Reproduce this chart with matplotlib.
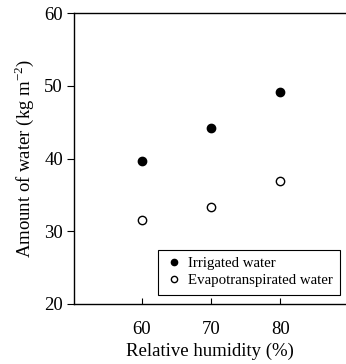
import matplotlib
matplotlib.use("Agg")
import matplotlib.pyplot as plt

plt.rcParams["font.family"] = ["Liberation Serif", "DejaVu Serif"]
plt.rcParams["mathtext.fontset"] = "custom"
plt.rcParams["mathtext.rm"] = "Liberation Serif"

humidity = [60, 70, 80]
irrigated = [39.6, 44.2, 49.1]
evapotranspirated = [31.5, 33.4, 36.9]
x_ticks = [60, 70, 80]
y_ticks = [20, 30, 40, 50, 60]

fig = plt.figure(figsize=(3.46, 3.64), dpi=100)
ax = fig.add_axes([0.214, 0.165, 0.786, 0.799])

ax.plot(humidity, irrigated, "o", color="black", markersize=6,
        label="Irrigated water")
ax.plot(humidity, evapotranspirated, "o", markerfacecolor="white",
        markeredgecolor="black", markeredgewidth=1.0, markersize=6,
        label="Evapotranspirated water")

ax.set_xlim(50.2, 89.5)
ax.set_ylim(20, 60)
ax.set_xticks(x_ticks)
ax.set_yticks(y_ticks)
ax.tick_params(axis="x", direction="in", length=4, labelsize=13.5, pad=12)
ax.tick_params(axis="y", direction="out", length=5, labelsize=13.5, pad=3)
ax.spines["right"].set_visible(False)
for s in ["left", "bottom", "top"]:
    ax.spines[s].set_linewidth(1.0)

ax.set_xlabel("Relative humidity (%)", fontsize=13.5, labelpad=4)
ax.set_ylabel("Amount of water (kg m$^{-2}$)", fontsize=13.5, labelpad=6)

leg = ax.legend(loc="lower right", fontsize=10.7, frameon=True, fancybox=False,
                edgecolor="black", framealpha=1, handletextpad=0.3,
                handlelength=1.2, markerscale=0.75, borderpad=0.5,
                labelspacing=0.25, borderaxespad=0,
                bbox_to_anchor=(0.978, 0.031))
leg.get_frame().set_linewidth(0.8)

fig.savefig("out.png", dpi=100)
